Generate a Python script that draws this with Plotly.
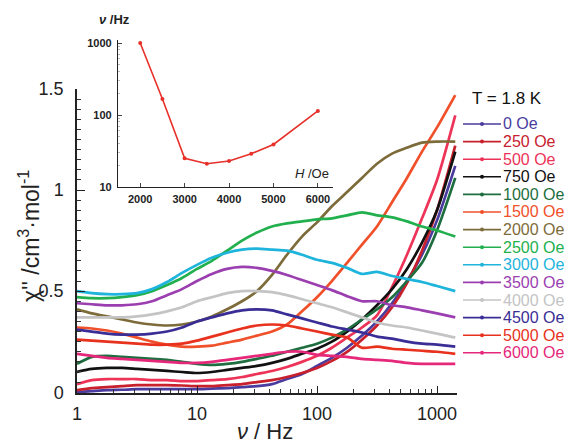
import plotly.graph_objects as go

# ---------------- data ----------------
FREQ_HZ = [1, 1.33, 1.78, 2.37, 3.16, 4.22, 5.62, 7.5, 10, 13.3, 17.8, 23.7, 31.6,
           42.2, 56.2, 75, 100, 133, 178, 237, 316, 422, 562, 750, 1000, 1420]

FIELD_LABELS = ["0 Oe", "250 Oe", "500 Oe", "750 Oe", "1000 Oe", "1500 Oe", "2000 Oe",
                "2500 Oe", "3000 Oe", "3500 Oe", "4000 Oe", "4500 Oe", "5000 Oe", "6000 Oe"]

CHI_0 = [0.0, 0.005, 0.01, 0.012, 0.015, 0.015, 0.015, 0.015, 0.015, 0.018, 0.02, 0.025, 0.03,
         0.04, 0.065, 0.09, 0.13, 0.17, 0.22, 0.28, 0.35, 0.44, 0.55, 0.68, 0.85, 1.12]
CHI_250 = [0.01, 0.02, 0.025, 0.03, 0.035, 0.035, 0.035, 0.033, 0.03, 0.03, 0.035, 0.04, 0.05,
           0.06, 0.075, 0.095, 0.12, 0.155, 0.2, 0.26, 0.33, 0.42, 0.54, 0.7, 0.9, 1.22]
CHI_500 = [0.04, 0.06, 0.065, 0.065, 0.065, 0.06, 0.06, 0.055, 0.055, 0.06, 0.065, 0.075, 0.09,
           0.105, 0.125, 0.15, 0.18, 0.22, 0.27, 0.32, 0.38, 0.52, 0.68, 0.86, 1.05, 1.37]
CHI_750 = [0.1, 0.115, 0.12, 0.12, 0.115, 0.11, 0.105, 0.1, 0.095, 0.1, 0.11, 0.12, 0.13,
           0.145, 0.165, 0.19, 0.215, 0.25, 0.3, 0.36, 0.43, 0.51, 0.61, 0.74, 0.9, 1.19]
CHI_1000 = [0.14, 0.175, 0.18, 0.175, 0.17, 0.165, 0.16, 0.15, 0.14, 0.135, 0.14, 0.15, 0.165,
            0.18, 0.2, 0.22, 0.24, 0.27, 0.31, 0.36, 0.41, 0.47, 0.55, 0.64, 0.8, 1.06]
CHI_1500 = [0.32, 0.315, 0.305, 0.29, 0.27, 0.25, 0.235, 0.225, 0.225, 0.23, 0.245, 0.26, 0.28,
            0.3, 0.335, 0.4, 0.47, 0.55, 0.64, 0.73, 0.82, 0.94, 1.06, 1.19, 1.31, 1.47]
CHI_2000 = [0.41, 0.39, 0.375, 0.36, 0.345, 0.335, 0.33, 0.335, 0.35, 0.375, 0.41, 0.45, 0.5,
            0.58, 0.68, 0.77, 0.84, 0.92, 0.99, 1.06, 1.13, 1.18, 1.21, 1.235, 1.24, 1.24]
CHI_2500 = [0.47, 0.465, 0.465, 0.47, 0.48, 0.5, 0.53, 0.565, 0.61, 0.65, 0.7, 0.75, 0.79,
            0.82, 0.835, 0.845, 0.855, 0.86, 0.875, 0.89, 0.875, 0.865, 0.845, 0.82, 0.8, 0.77]
CHI_3000 = [0.5, 0.49, 0.485, 0.485, 0.49, 0.51, 0.545, 0.59, 0.63, 0.665, 0.69, 0.705, 0.71,
            0.705, 0.7, 0.68, 0.655, 0.64, 0.615, 0.585, 0.595, 0.575, 0.56, 0.545, 0.525, 0.5]
CHI_3500 = [0.44, 0.435, 0.43, 0.43, 0.435, 0.45, 0.48, 0.51, 0.55, 0.585, 0.61, 0.62, 0.615,
            0.6, 0.58, 0.555, 0.53, 0.505, 0.475, 0.45, 0.45, 0.43, 0.42, 0.405, 0.39, 0.37]
CHI_4000 = [0.37, 0.37, 0.37, 0.37, 0.375, 0.385, 0.4, 0.42, 0.45, 0.47, 0.49, 0.5, 0.5,
            0.495, 0.48, 0.46, 0.44, 0.42, 0.395, 0.37, 0.345, 0.33, 0.32, 0.305, 0.29, 0.27]
CHI_4500 = [0.31, 0.3, 0.29, 0.285, 0.285, 0.29, 0.3, 0.32, 0.35, 0.37, 0.39, 0.405, 0.41,
            0.405, 0.385, 0.365, 0.345, 0.325, 0.31, 0.295, 0.275, 0.265, 0.25, 0.24, 0.235, 0.225]
CHI_5000 = [0.26, 0.255, 0.25, 0.245, 0.24, 0.235, 0.235, 0.24, 0.255, 0.275, 0.295, 0.315, 0.33,
            0.335, 0.33, 0.315, 0.3, 0.285, 0.27, 0.22, 0.225, 0.215, 0.21, 0.205, 0.2, 0.19]
CHI_6000 = [0.19, 0.18, 0.17, 0.165, 0.16, 0.155, 0.15, 0.145, 0.145, 0.15, 0.16, 0.17, 0.18,
            0.19, 0.2, 0.2, 0.185, 0.18, 0.175, 0.165, 0.16, 0.155, 0.145, 0.14, 0.14, 0.14]

CHI_SERIES = [CHI_0, CHI_250, CHI_500, CHI_750, CHI_1000, CHI_1500, CHI_2000,
              CHI_2500, CHI_3000, CHI_3500, CHI_4000, CHI_4500, CHI_5000, CHI_6000]

COLORS = ["#4a3c9e", "#c8202c", "#ee3358", "#111111", "#1e6e40", "#f0502a", "#7d6b3a",
          "#22b04e", "#1eb4dc", "#9b3fb0", "#c4c4c4", "#3a2e96", "#e8321e", "#e6287a"]

# peak frequency vs applied field (inset)
INSET_H_OE = [2000, 2500, 3000, 3500, 4000, 4500, 5000, 6000]
INSET_NU_HZ = [1000, 167, 25, 21, 23, 29, 39, 114]

X_TICKS = [1, 10, 100, 1000]
Y_TICKS = [0, 0.5, 1, 1.5]
INSET_X_TICKS = [2000, 3000, 4000, 5000, 6000]
INSET_Y_TICKS = [10, 100, 1000]

# ---------------- layout geometry (pixels) ----------------
W, H = 578, 445
ML, MR, MT, MB = 77, 121, 30, 52
PW, PH = W - ML - MR, H - MT - MB


def xp(px):
    return (px - ML) / PW


def yp(py):
    return (H - MB - py) / PH


FONT = "Liberation Sans, Arial, sans-serif"

fig = go.Figure()

for label, chi, col in zip(FIELD_LABELS, CHI_SERIES, COLORS):
    fig.add_trace(go.Scatter(
        x=FREQ_HZ, y=chi, mode="lines", name=label,
        line=dict(color=col, width=2.7, shape="spline", smoothing=0.7),
        showlegend=False, xaxis="x", yaxis="y"))

fig.add_trace(go.Scatter(
    x=INSET_H_OE, y=INSET_NU_HZ, mode="lines+markers",
    line=dict(color="#e8302a", width=1.6),
    marker=dict(color="#e8302a", size=4),
    showlegend=False, xaxis="x2", yaxis="y2"))

minor_x = [m * d for d in (1, 10, 100) for m in range(2, 10)]
minor_iy = [m * d for d in (10, 100) for m in range(2, 10)]

main_y_top = yp(89)
fig.update_layout(
    width=W, height=H,
    margin=dict(l=ML, r=MR, t=MT, b=MB),
    paper_bgcolor="white", plot_bgcolor="rgba(0,0,0,0)",
    font=dict(family=FONT, color="#222222"),
    showlegend=False,
    xaxis=dict(type="log", range=[0, 380 / 120], domain=[0, 1], anchor="y",
               showgrid=False, zeroline=False, showline=True, linecolor="#222",
               linewidth=1.5, ticks="inside", ticklen=7, tickwidth=1.2, tickcolor="#222",
               tickvals=X_TICKS, ticktext=[str(v) for v in X_TICKS],
               tickfont=dict(size=18, color="#222"), ticklabelstandoff=4,
               minor=dict(tickvals=minor_x, ticks="inside", ticklen=4, tickcolor="#333",
                          tickwidth=1, showgrid=False)),
    yaxis=dict(range=[-0.004, 1.5], domain=[0, main_y_top], anchor="x",
               showgrid=False, zeroline=False, showline=True, linecolor="#222",
               linewidth=1.5, ticks="inside", ticklen=8, tickwidth=1.2, tickcolor="#222",
               tickvals=Y_TICKS, ticktext=["0", "0.5", "1", "1.5"],
               tickfont=dict(size=18, color="#222"), ticklabelstandoff=8,
               minor=dict(dtick=0.05, ticks="inside", ticklen=4, tickcolor="#333",
                          tickwidth=1, showgrid=False)),
    xaxis2=dict(range=[1500, 6340], domain=[xp(118), xp(333)], anchor="y2",
                showgrid=False, zeroline=False, showline=True, linecolor="#222",
                linewidth=1.2, ticks="inside", ticklen=4, tickcolor="#444",
                tickvals=INSET_X_TICKS, ticktext=[str(v) for v in INSET_X_TICKS],
                tickfont=dict(size=11, color="#222", weight="bold"), ticklabelstandoff=2),
    yaxis2=dict(type="log", range=[1, 1 + 147 / 72], domain=[yp(187), yp(40)], anchor="x2",
                showgrid=False, zeroline=False, showline=True, linecolor="#222",
                linewidth=1.2, ticks="inside", ticklen=4, tickcolor="#444",
                tickvals=INSET_Y_TICKS, ticktext=[str(v) for v in INSET_Y_TICKS],
                tickfont=dict(size=11, color="#222", weight="bold"), ticklabelstandoff=3,
                minor=dict(tickvals=minor_iy, ticks="inside", ticklen=2, tickcolor="#bbb",
                           showgrid=False)),
)

annotations = [
    dict(text="χ'' /cm<sup>3</sup>·mol<sup>-1</sup>", textangle=-90,
         x=xp(29), y=yp(236), xanchor="center", yanchor="middle",
         font=dict(size=23, color="#222")),
    dict(text="<i>ν</i> / Hz", x=xp(265), y=yp(445), xanchor="center", yanchor="bottom",
         borderpad=0, font=dict(size=22, color="#222")),
    dict(text="T = 1.8 K", x=xp(470), y=yp(98), xanchor="left", yanchor="middle",
         font=dict(size=17, color="#111")),
    dict(text="<i>ν</i> /Hz", x=xp(97), y=yp(20), xanchor="left", yanchor="middle",
         font=dict(size=13, color="#222", weight="bold")),
    dict(text="<i>H</i> /Oe", x=xp(293), y=yp(173), xanchor="left", yanchor="middle",
         font=dict(size=13, color="#222")),
]

shapes = []
for i, (label, col) in enumerate(zip(FIELD_LABELS, COLORS)):
    yc = 124 + i * 17.6
    shapes.append(dict(type="line", xref="paper", yref="paper",
                       x0=xp(463), x1=xp(501), y0=yp(yc), y1=yp(yc),
                       line=dict(color=col, width=1.6)))
    shapes.append(dict(type="circle", xref="paper", yref="paper",
                       x0=xp(480), x1=xp(484), y0=yp(yc + 2), y1=yp(yc - 2),
                       fillcolor=col, line=dict(color=col, width=0)))
    annotations.append(dict(text=label, x=xp(502), y=yp(yc), xanchor="left",
                            yanchor="middle", showarrow=False, borderpad=0,
                            font=dict(size=16, color=col)))

for a in annotations:
    a.setdefault("xref", "paper")
    a.setdefault("yref", "paper")
    a.setdefault("showarrow", False)

fig.update_layout(annotations=annotations, shapes=shapes)

fig.write_html("out.html")
